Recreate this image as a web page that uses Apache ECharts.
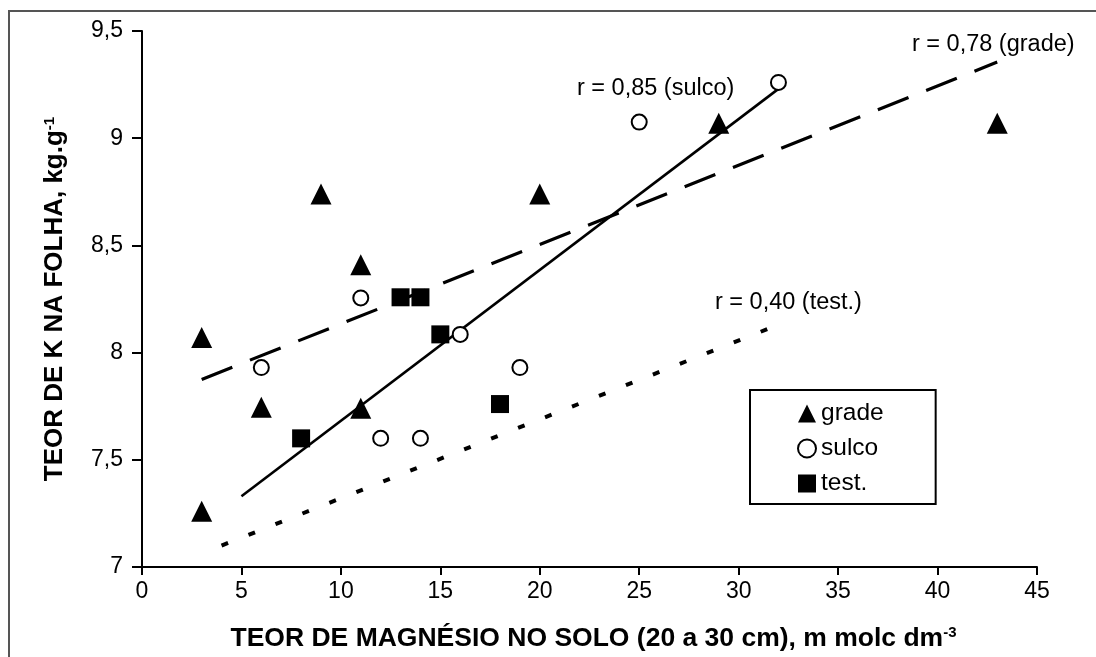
<!DOCTYPE html>
<html>
<head>
<meta charset="utf-8">
<script src="https://cdn.jsdelivr.net/npm/echarts@6/dist/echarts.min.js"></script>
<style>
html,body{margin:0;padding:0;background:#fff;}
#chart{width:1096px;height:657px;}
</style>
</head>
<body>
<div id="chart"></div>
<script>
// ---- data ----
const gradeX = [3, 3, 6, 9, 11, 11, 20, 29, 43];
const gradeY = [8.07, 7.26, 7.745, 8.74, 8.41, 7.74, 8.74, 9.07, 9.07];
const sulcoX = [6, 11, 12, 14, 16, 19, 25, 32];
const sulcoY = [7.93, 8.255, 7.6, 7.6, 8.085, 7.93, 9.075, 9.26];
const testX = [8, 13, 14, 15, 18];
const testY = [7.6, 8.258, 8.258, 8.085, 7.76];
const fitSulcoX = [5, 32];
const fitSulcoY = [7.33, 9.23];
const fitGradeX = [3, 43];
const fitGradeY = [7.875, 9.355];
const fitTestX = [4, 32];
const fitTestY = [7.1, 8.13];
const xTickMin = 0, xTickMax = 45, xTickStep = 5;
const yTickMin = 7, yTickMax = 9.5, yTickStep = 0.5;
const seriesNames = ['grade', 'sulco', 'test.'];
const rLabels = ['r = 0,85 (sulco)', 'r = 0,78 (grade)', 'r = 0,40 (test.)'];

const zip = (xs, ys) => xs.map((x, i) => [x, ys[i]]);
const FONT = '"Liberation Sans", Arial, sans-serif';

const chart = echarts.init(document.getElementById('chart'), null, {renderer: 'canvas'});
chart.setOption({
  animation: false,
  backgroundColor: '#fff',
  textStyle: {fontFamily: FONT},
  grid: {left: 142, right: 59, top: 31, bottom: 90, containLabel: false},
  xAxis: {
    type: 'value', min: xTickMin, max: xTickMax, interval: xTickStep,
    axisLine: {show: true, lineStyle: {color: '#000', width: 2}},
    axisTick: {show: true, length: 8, lineStyle: {color: '#000', width: 2}},
    splitLine: {show: false},
    axisLabel: {fontSize: 23, color: '#000', margin: 13, fontFamily: FONT},
    name: '{t|TEOR DE MAGNÉSIO NO SOLO (20 a 30 cm), m molc dm}{s|-3}',
    nameLocation: 'middle', nameGap: 58,
    nameTextStyle: {
      padding: [0, 0, 0, 8],
      rich: {
        t: {fontSize: 26.5, fontWeight: 'bold', color: '#000', fontFamily: FONT},
        s: {fontSize: 15, fontWeight: 'bold', color: '#000', verticalAlign: 'top', fontFamily: FONT}
      }
    }
  },
  yAxis: {
    type: 'value', min: yTickMin, max: yTickMax, interval: yTickStep,
    axisLine: {show: true, lineStyle: {color: '#000', width: 2}},
    axisTick: {show: true, length: 10, lineStyle: {color: '#000', width: 2}},
    splitLine: {show: false},
    axisLabel: {fontSize: 23, color: '#000', margin: 19, fontFamily: FONT,
      formatter: v => String(v).replace('.', ',')},
    name: '{t|TEOR DE K NA FOLHA, kg.g}{s|-1}',
    nameLocation: 'middle', nameGap: 74, nameRotate: 90,
    nameTextStyle: {
      rich: {
        t: {fontSize: 26, fontWeight: 'bold', color: '#000', fontFamily: FONT},
        s: {fontSize: 15, fontWeight: 'bold', color: '#000', verticalAlign: 'top', fontFamily: FONT}
      }
    }
  },
  legend: {
    data: seriesNames,
    orient: 'vertical',
    left: 750, top: 390,
    borderColor: '#000', borderWidth: 2,
    padding: [11, 52, 8, 47],
    itemWidth: 18, itemHeight: 18, itemGap: 10,
    textStyle: {fontSize: 24.5, color: '#000', fontFamily: FONT},
    selectedMode: false
  },
  series: [
    {name: 'fitGrade', type: 'line', data: zip(fitGradeX, fitGradeY), symbol: 'none', silent: true,
      lineStyle: {color: '#000', width: 3.2, type: [33, 19]}, z: 1},
    {name: 'fitSulco', type: 'line', data: zip(fitSulcoX, fitSulcoY), symbol: 'none', silent: true,
      lineStyle: {color: '#000', width: 2.6}, z: 1},
    {name: 'fitTest', type: 'line', data: zip(fitTestX, fitTestY), symbol: 'none', silent: true,
      lineStyle: {color: '#000', width: 4, type: [7, 22]}, z: 1},
    {name: seriesNames[0], type: 'scatter', data: zip(gradeX, gradeY), symbol: 'triangle', symbolSize: 21,
      itemStyle: {color: '#000', opacity: 1}, z: 3},
    {name: seriesNames[1], type: 'scatter', data: zip(sulcoX, sulcoY), symbol: 'circle', symbolSize: 15,
      itemStyle: {color: '#fff', borderColor: '#000', borderWidth: 2, opacity: 1}, z: 3},
    {name: seriesNames[2], type: 'scatter', data: zip(testX, testY), symbol: 'rect', symbolSize: 18,
      itemStyle: {color: '#000', opacity: 1}, z: 3}
  ],
  graphic: [
    {type: 'rect', shape: {x: 9, y: 11, width: 1200, height: 800}, silent: true,
      style: {fill: 'none', stroke: '#555', lineWidth: 2}, z: 0},
    {type: 'text', x: 577, y: 89, silent: true,
      style: {text: rLabels[0], fill: '#000', font: '23.5px ' + FONT, textVerticalAlign: 'middle'}},
    {type: 'text', x: 912, y: 45, silent: true,
      style: {text: rLabels[1], fill: '#000', font: '23.5px ' + FONT, textVerticalAlign: 'middle'}},
    {type: 'text', x: 715, y: 303, silent: true,
      style: {text: rLabels[2], fill: '#000', font: '23.5px ' + FONT, textVerticalAlign: 'middle'}}
  ]
});
</script>
</body>
</html>
